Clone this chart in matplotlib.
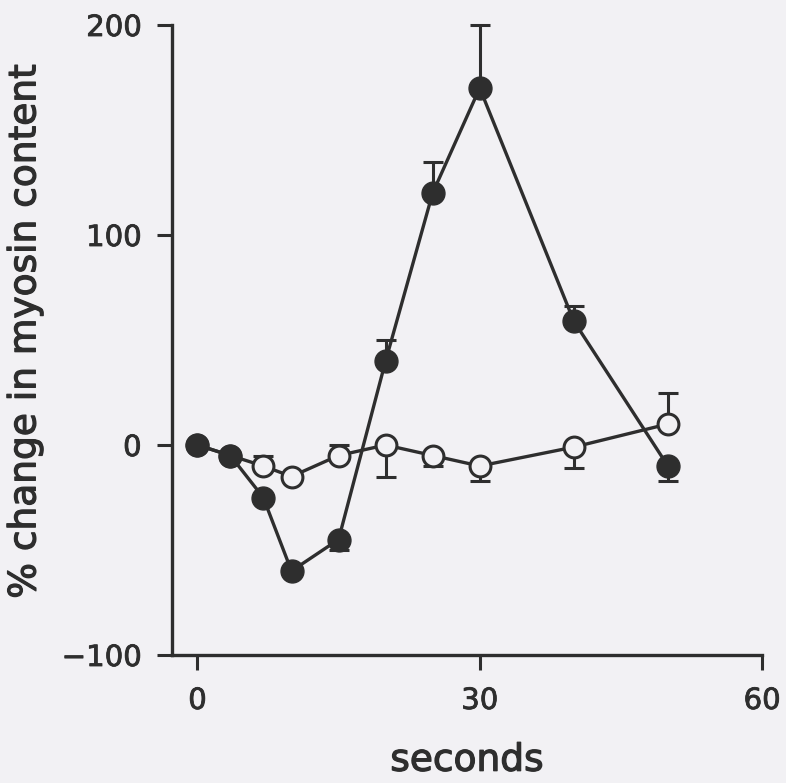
import numpy as np
import matplotlib.pyplot as plt
import matplotlib.patheffects as pe

# time points (seconds)
t_filled = [0, 3.5, 7, 10, 15, 20, 25, 30, 40, 50]
y_filled = [0, -5, -25, -60, -45, 40, 120, 170, 59, -10]
err_filled_lo = [0, 0, 0, 0, 5, 0, 0, 0, 0, 7]
err_filled_hi = [0, 0, 0, 0, 0, 10, 15, 30, 7, 0]

t_open = [0, 3.5, 7, 10, 15, 20, 25, 30, 40, 50]
y_open = [0, -5, -10, -15, -5, 0, -5, -10, -1, 10]
err_open_lo = [0, 0, 0, 0, 0, 15, 5, 7, 10, 0]
err_open_hi = [0, 0, 5, 0, 5, 0, 0, 0, 0, 15]

x_ticks = [0, 30, 60]
y_ticks = [-100, 0, 100, 200]

bg = '#f2f1f4'
ink = '#2e2e2e'

plt.rcParams['font.family'] = 'DejaVu Sans'
bolder = [pe.withStroke(linewidth=0.9, foreground=ink)]

fig = plt.figure(figsize=(7.86, 7.83), dpi=100, facecolor=bg)
ax = fig.add_axes([172 / 786, 128 / 783, (762 - 172) / 786, (655 - 25) / 783])
ax.set_facecolor(bg)

ax.errorbar(t_open, y_open, yerr=[err_open_lo, err_open_hi], fmt='o-',
            color=ink, lw=2.4, ms=15, mfc=bg, mec=ink, mew=2.2,
            ecolor=ink, elinewidth=2.2, capsize=7, capthick=2.2,
            clip_on=False, zorder=2)
ax.errorbar(t_filled, y_filled, yerr=[err_filled_lo, err_filled_hi], fmt='o-',
            color=ink, lw=2.4, ms=16.5, mfc=ink, mec=ink,
            ecolor=ink, elinewidth=2.2, capsize=7, capthick=2.2,
            clip_on=False, zorder=3)

ax.set_xlim(-2.7, 60)
ax.set_ylim(-100, 200)
ax.set_xticks(x_ticks)
ax.set_yticks(y_ticks)
ax.set_yticklabels(['\u2212100', '0', '100', '200'])

for s in ['top', 'right']:
    ax.spines[s].set_visible(False)
for s in ['left', 'bottom']:
    ax.spines[s].set_linewidth(2.4)
    ax.spines[s].set_color(ink)

ax.tick_params(axis='both', direction='out', length=11, width=2.2,
               color=ink, labelcolor=ink, labelsize=21)
ax.tick_params(axis='x', pad=12)
ax.tick_params(axis='y', pad=11)
for lab in ax.get_xticklabels() + ax.get_yticklabels():
    lab.set_path_effects([pe.withStroke(linewidth=0.6, foreground=ink)])

ax.set_xlabel('seconds', fontsize=27, color=ink, labelpad=20, path_effects=bolder)
ax.set_ylabel('% change in myosin content', fontsize=27, color=ink, path_effects=bolder)
ax.yaxis.set_label_coords(-0.218, 0.513)

fig.savefig('out.png', dpi=100, facecolor=bg)
